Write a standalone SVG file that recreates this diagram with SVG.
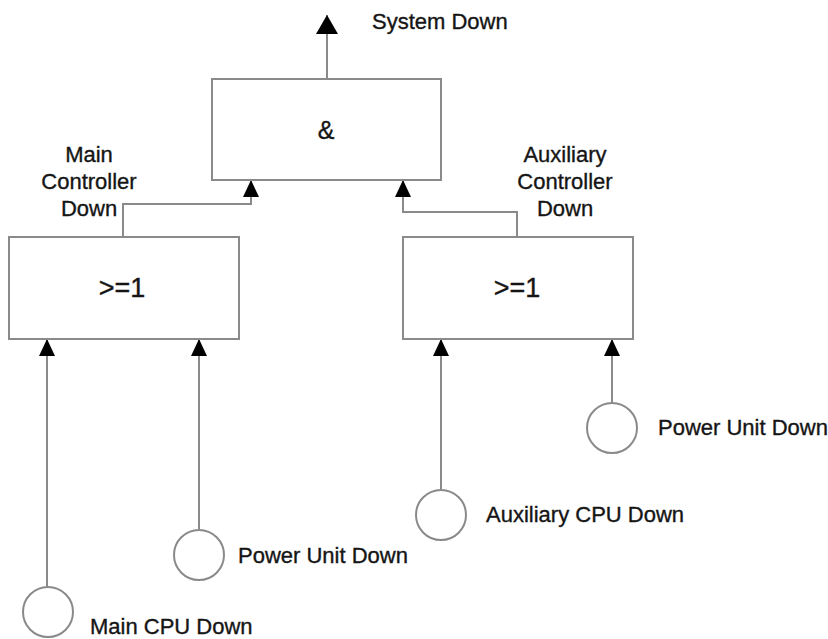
<svg xmlns="http://www.w3.org/2000/svg" width="828" height="639" viewBox="0 0 828 639">
<style>
.box{fill:#fff;stroke:#8a8a8a;stroke-width:2}
.ev{fill:#fff;stroke:#8a8a8a;stroke-width:2}
.ln{fill:none;stroke:#8a8a8a;stroke-width:2}
.t{font-family:"Liberation Sans",Arial,sans-serif;font-size:22px;fill:#151515;stroke:#151515;stroke-width:0.35}
.g{font-family:"Liberation Sans",Arial,sans-serif;fill:#151515;stroke:#151515;stroke-width:0.35;text-anchor:middle}
</style>
<defs>
<marker id="arr" markerUnits="userSpaceOnUse" markerWidth="17" markerHeight="16" viewBox="0 0 17 16" refX="17" refY="8" orient="auto">
<path d="M0,0 L17,8 L0,16 z" fill="#000"/>
</marker>
<marker id="arr-big" markerUnits="userSpaceOnUse" markerWidth="19" markerHeight="22" viewBox="0 0 19 22" refX="19" refY="11" orient="auto">
<path d="M0,0 L19,11 L0,22 z" fill="#000"/>
</marker>
</defs>
<rect width="828" height="639" fill="#fff"/>
<g id="connectors">
<path class="ln" d="M327,79 V15" marker-end="url(#arr-big)"/>
<path class="ln" d="M123,237 V204 H251 V180" marker-end="url(#arr)"/>
<path class="ln" d="M517,237 V212 H403 V180" marker-end="url(#arr)"/>
<path class="ln" d="M47,587 V339" marker-end="url(#arr)"/>
<path class="ln" d="M199,530 V339" marker-end="url(#arr)"/>
<path class="ln" d="M441,490 V339" marker-end="url(#arr)"/>
<path class="ln" d="M612,403 V339" marker-end="url(#arr)"/>
</g>
<g id="and-gate">
<rect class="box" x="212" y="79" width="229" height="101"/>
<text class="g" x="326" y="139" font-size="25">&amp;</text>
</g>
<text id="system-down" class="t" x="372" y="29">System Down</text>
<g id="or-main">
<rect class="box" x="9" y="237" width="230" height="102"/>
<text class="g" x="122" y="297" font-size="27">&gt;=1</text>
</g>
<g id="label-main">
<text class="g" x="89" y="162" font-size="22">Main</text>
<text class="g" x="89" y="189" font-size="22">Controller</text>
<text class="g" x="89" y="216" font-size="22">Down</text>
</g>
<g id="or-aux">
<rect class="box" x="403" y="237" width="230" height="102"/>
<text class="g" x="517" y="297" font-size="27">&gt;=1</text>
</g>
<g id="label-aux">
<text class="g" x="565" y="162" font-size="22">Auxiliary</text>
<text class="g" x="565" y="189" font-size="22">Controller</text>
<text class="g" x="565" y="216" font-size="22">Down</text>
</g>
<g id="main-cpu">
<circle class="ev" cx="48" cy="612" r="25"/>
<text class="t" x="90" y="634">Main CPU Down</text>
</g>
<g id="power-main">
<circle class="ev" cx="199" cy="555" r="25"/>
<text class="t" x="238" y="563">Power Unit Down</text>
</g>
<g id="aux-cpu">
<circle class="ev" cx="441" cy="515" r="25"/>
<text class="t" x="486" y="522">Auxiliary CPU Down</text>
</g>
<g id="power-aux">
<circle class="ev" cx="612" cy="428" r="25"/>
<text class="t" x="658" y="435">Power Unit Down</text>
</g>
</svg>
